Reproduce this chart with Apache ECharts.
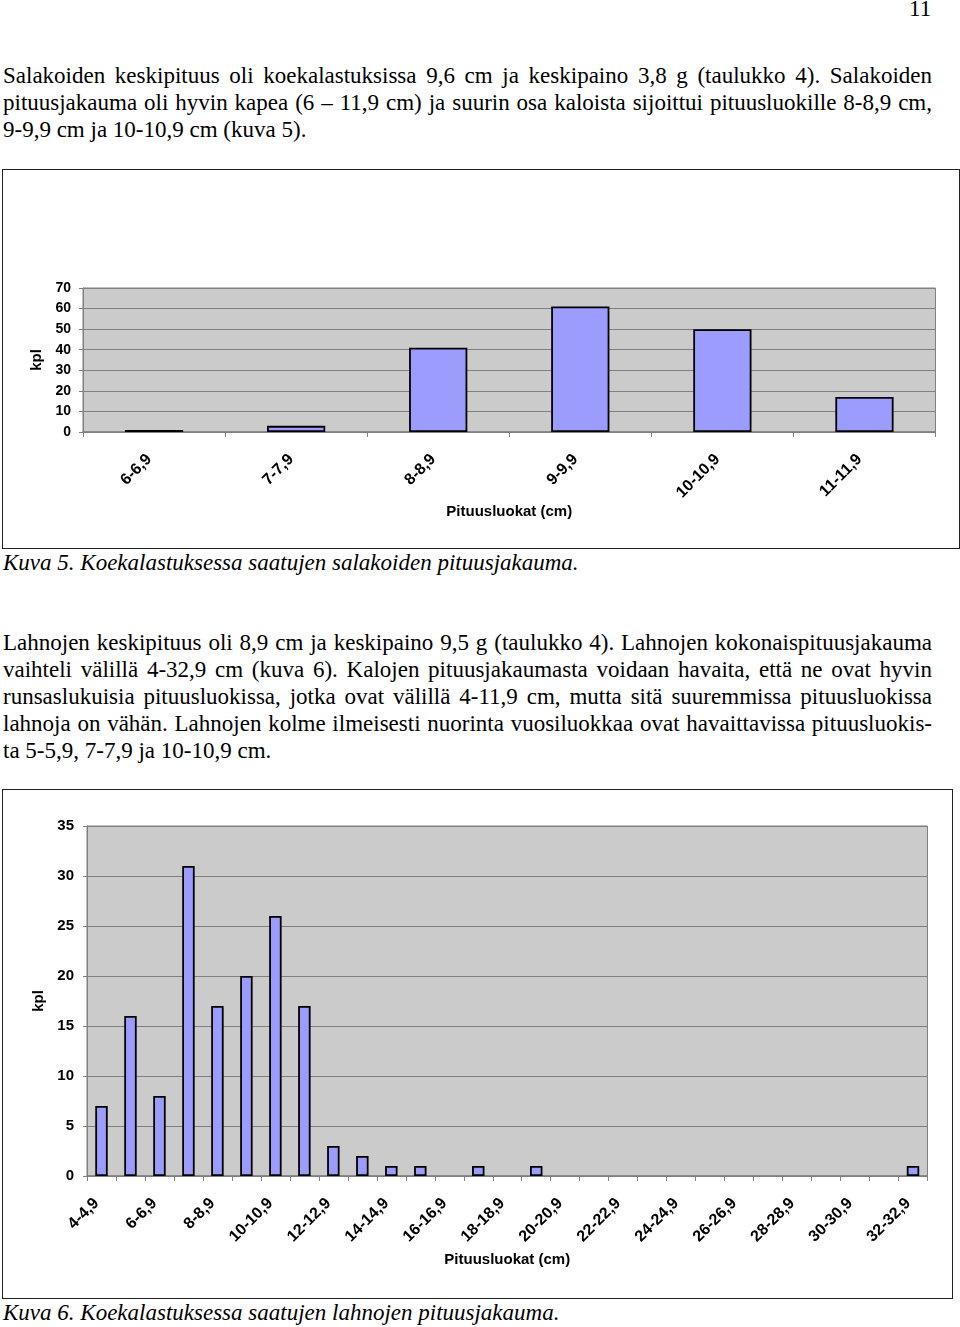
<!DOCTYPE html>
<html>
<head>
<meta charset="utf-8">
<script src="https://cdn.jsdelivr.net/npm/echarts@6/dist/echarts.min.js"></script>
<style>
  html, body { margin: 0; padding: 0; background: #fff; }
  body { width: 960px; height: 1327px; position: relative; overflow: hidden; font-family: "Liberation Serif", "Times New Roman", serif; color: #000; }
  .txt { position: absolute; left: 3px; width: 929px; font-size: 23px; line-height: 27px; }
  .j { text-align: justify; text-align-last: justify; white-space: nowrap; }
  .l { text-align: left; white-space: nowrap; }
  .cap { position: absolute; left: 3px; font-size: 23px; line-height: 27px; font-style: italic; white-space: nowrap; }
  .box { position: absolute; border: 1.5px solid #222; box-sizing: border-box; }
  .chart { position: absolute; left: 0; width: 960px; }
</style>
</head>
<body>
<div style="position:absolute; left:909px; top:-5px; font-size:23px; line-height:27px;">11</div>

<div class="txt" style="top:62px;">
  <div class="j">Salakoiden keskipituus oli koekalastuksissa 9,6 cm ja keskipaino 3,8 g (taulukko 4). Salakoiden</div>
  <div class="j">pituusjakauma oli hyvin kapea (6 – 11,9 cm) ja suurin osa kaloista sijoittui pituusluokille 8-8,9 cm,</div>
  <div class="l">9-9,9 cm ja 10-10,9 cm (kuva 5).</div>
</div>

<div class="box" style="left:2px; top:169px; width:958px; height:380px;"></div>
<div id="c1" class="chart" style="top:170px; height:378px;"></div>
<div class="cap" style="top:549px;">Kuva 5. Koekalastuksessa saatujen salakoiden pituusjakauma.</div>

<div class="txt" style="top:629px;">
  <div class="j">Lahnojen keskipituus oli 8,9 cm ja keskipaino 9,5 g (taulukko 4). Lahnojen kokonaispituusjakauma</div>
  <div class="j">vaihteli välillä 4-32,9 cm (kuva 6). Kalojen pituusjakaumasta voidaan havaita, että ne ovat hyvin</div>
  <div class="j">runsaslukuisia pituusluokissa, jotka ovat välillä 4-11,9 cm, mutta sitä suuremmissa pituusluokissa</div>
  <div class="j">lahnoja on vähän. Lahnojen kolme ilmeisesti nuorinta vuosiluokkaa ovat havaittavissa pituusluokis-</div>
  <div class="l">ta 5-5,9, 7-7,9 ja 10-10,9 cm.</div>
</div>

<div class="box" style="left:2px; top:789px; width:951px; height:510px;"></div>
<div id="c2" class="chart" style="top:790px; height:508px;"></div>
<div class="cap" style="top:1299px;">Kuva 6. Koekalastuksessa saatujen lahnojen pituusjakauma.</div>

<script>
// Chart 1 (Kuva 5) data
const cats1 = ['6-6,9', '7-7,9', '8-8,9', '9-9,9', '10-10,9', '11-11,9'];
const vals1 = [1, 3, 41, 61, 50, 17];

// Chart 2 (Kuva 6) data
const cats2 = ['4-4,9', '5-5,9', '6-6,9', '7-7,9', '8-8,9', '9-9,9', '10-10,9', '11-11,9',
  '12-12,9', '13-13,9', '14-14,9', '15-15,9', '16-16,9', '17-17,9', '18-18,9', '19-19,9',
  '20-20,9', '21-21,9', '22-22,9', '23-23,9', '24-24,9', '25-25,9', '26-26,9', '27-27,9',
  '28-28,9', '29-29,9', '30-30,9', '31-31,9', '32-32,9'];
const vals2 = [7, 16, 8, 31, 17, 20, 26, 17, 3, 2, 1, 1, 0, 1, 0, 1,
  0, 0, 0, 0, 0, 0, 0, 0, 0, 0, 0, 0, 1];

const xName = 'Pituusluokat (cm)';
const yName = 'kpl';

const FONT = 'Liberation Sans, Arial, sans-serif';
const GRAY = '#808080';

// fit justified lines that would overflow
document.querySelectorAll('.j').forEach(el => {
  const w = el.scrollWidth, cw = el.clientWidth;
  if (w > cw) { el.style.letterSpacing = (-(w - cw) / el.textContent.trim().length) + 'px'; }
});

function makeOption(cats, vals, cfg) {
  return {
    animation: false,
    grid: {
      left: cfg.left, top: cfg.top, right: cfg.right, height: cfg.height,
      show: true, backgroundColor: '#cbcbcb', borderColor: GRAY, borderWidth: 1
    },
    xAxis: {
      type: 'category',
      data: cats,
      name: xName,
      nameLocation: 'middle',
      nameGap: cfg.xNameGap,
      nameTextStyle: { fontFamily: FONT, fontWeight: 'bold', fontSize: 15, color: '#000' },
      axisLine: { lineStyle: { color: GRAY, width: 1.5 } },
      axisTick: { show: true, interval: 0, length: 5, lineStyle: { color: GRAY } },
      axisLabel: {
        interval: cfg.labelInterval, rotate: 45, margin: cfg.labelMargin,
        padding: [0, 7, 0, 0],
        fontFamily: FONT, fontWeight: 'bold', fontSize: 16, color: '#000'
      },
      splitLine: { show: false }
    },
    yAxis: {
      type: 'value',
      min: 0, max: cfg.max, interval: cfg.interval,
      name: yName,
      nameLocation: 'middle',
      nameGap: cfg.yNameGap,
      nameTextStyle: { fontFamily: FONT, fontWeight: 'bold', fontSize: 15, color: '#000' },
      axisLine: { show: true, lineStyle: { color: GRAY, width: 1 } },
      axisTick: { show: true, length: 4, lineStyle: { color: GRAY } },
      axisLabel: { margin: cfg.yLabelMargin, fontFamily: FONT, fontWeight: 'bold', fontSize: cfg.yFont, color: '#000' },
      splitLine: { show: true, lineStyle: { color: GRAY, width: 1.2 } }
    },
    series: [{
      type: 'bar',
      barWidth: cfg.barWidth,
      data: vals.map(v => v === 0 ? { value: 0, itemStyle: { borderWidth: 0 } } : v),
      itemStyle: { color: '#9c9cff', borderColor: '#000', borderWidth: 1.8 }
    }]
  };
}

const c1 = echarts.init(document.getElementById('c1'), null, { renderer: 'canvas' });
c1.setOption(makeOption(cats1, vals1, {
  left: 83, top: 118, right: 24.5, height: 144,
  max: 70, interval: 10, labelInterval: 0, labelMargin: 20,
  xNameGap: 71, yNameGap: 37, yLabelMargin: 12, yFont: 14, barWidth: '41%'
}));

const c2 = echarts.init(document.getElementById('c2'), null, { renderer: 'canvas' });
c2.setOption(makeOption(cats2, vals2, {
  left: 87, top: 36, right: 32.5, height: 350,
  max: 35, interval: 5, labelInterval: 1, labelMargin: 20,
  xNameGap: 76, yNameGap: 40, yLabelMargin: 13, yFont: 15, barWidth: '43%'
}));
</script>
</body>
</html>
